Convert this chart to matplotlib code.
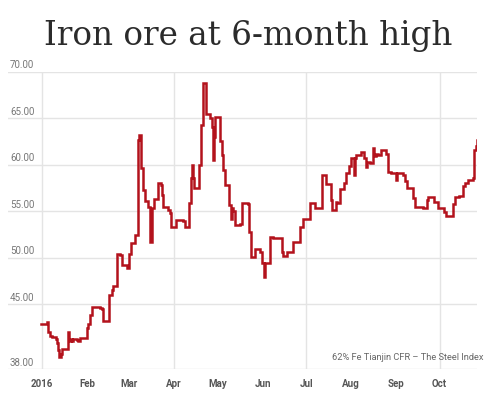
import matplotlib
matplotlib.use("Agg")
import matplotlib.pyplot as plt

# ---- data: change points (days since 2016-01-01) and price, USD/t ----
days = [-1, 3.5, 4.1, 5.3, 6.5, 9.2, 9.9, 11, 11.5, 12.7, 13.8, 18, 18.6, 19.6, 20.7, 21.4,
        23.7, 24.8, 26, 30.6, 31.7, 32.9, 34, 39.8, 41, 42.1, 46, 47.8, 49, 51.7,
        53.6, 54.7, 58.2, 60, 61.2, 63.9, 66.2, 66.7, 68.1, 69.2, 70.8, 73.1, 74.3, 75.4,
        75.9, 77.2, 80, 81.6, 82.3, 83, 86.9, 88.1, 88.8, 92, 97.3, 98.4, 101.2, 102.6,
        103, 104.2, 104.9, 108.1, 109.4, 110.6, 111, 112.7, 115.7, 116.8, 117.5, 118.2,
        119.1, 122.8, 123.7, 124.8, 126, 129, 129.9, 130.6, 131.3, 132.9, 136.3, 137.5,
        142.1, 142.8, 143.9, 146.7, 150.1, 151.3, 153.1, 153.6, 157, 159.3, 165.1, 166.2,
        168.6, 173.1, 177.7, 180, 184.6, 188.1, 193.1, 195.7, 199.1, 200, 202.3, 203,
        205.3, 208.3, 209.4, 211.7, 212.9, 215.2, 215.7, 216.3, 219.8, 222.1, 223, 223.7,
        226, 228.3, 229, 230.1, 231.7, 233.4, 237, 238.2, 240.5, 243.9, 244.8, 249, 250.1,
        251.3, 255.9, 257, 262.8, 265.1, 266.2, 270.1, 273.1, 277.2, 278.2, 283.4, 284.6,
        287.4, 290.3, 291.5, 293.4, 297.2, 297.9, 298.9, 299.6]
prices = [42.9, 43.1, 42.0, 41.6, 41.5, 41.3, 40.8, 40.1, 39.35, 39.6, 40.15, 42.0, 41.0, 41.3, 41.0, 41.3,
          41.2, 41.0, 41.4, 42.4, 42.9, 43.8, 44.7, 44.6, 44.5, 43.2, 46.0, 46.5, 46.95, 50.4,
          50.3, 49.2, 48.9, 50.4, 51.55, 52.4, 62.65, 63.2, 59.6, 57.3, 56.1, 55.5, 51.7, 52.0,
          55.3, 56.3, 58.0, 57.8, 56.75, 55.5, 55.1, 54.8, 53.3, 54.05, 53.9, 53.3, 55.85, 58.55,
          60.0, 58.55, 57.5, 60.0, 64.3, 65.5, 68.75, 65.5, 65.0, 64.1, 60.5, 63.0,
          65.15, 62.6, 61.05, 59.4, 57.8, 55.65, 54.2, 55.3, 55.0, 53.5, 53.6, 55.85,
          55.8, 52.8, 50.1, 50.9, 50.6, 49.4, 47.95, 49.4, 52.2, 52.1, 50.65, 50.2,
          50.65, 51.7, 53.3, 54.2, 55.85, 55.3, 58.85, 57.9, 56.2, 55.1, 56.0, 55.9,
          57.4, 58.05, 59.15, 59.85, 60.7, 58.9, 60.7, 61.0, 61.4, 60.7, 59.7, 60.3,
          60.2, 61.8, 60.9, 61.1, 61.0, 61.6, 61.2, 59.25, 59.1, 58.35, 59.1, 58.9, 58.2,
          57.45, 56.4, 55.5, 55.3, 56.2, 56.5, 56.0, 55.3, 54.95, 54.5, 55.75, 56.5,
          56.6, 57.7, 58.05, 58.4, 58.6, 61.6, 62.0, 62.65]

month_days = [0, 31, 60, 91, 121, 152, 182, 213, 244, 274]
month_labels = ["2016", "Feb", "Mar", "Apr", "May", "Jun", "Jul", "Aug", "Sep", "Oct"]
grid_days = [0, 91, 182, 274]
y_ticks = [38, 45, 50, 55, 60, 65, 70]
y_labels = ["38.00", "45.00", "50.00", "55.00", "60.00", "65.00", "70.00"]

title = "Iron ore at 6-month high"
source = "62% Fe Tianjin CFR \u2013 The Steel Index"

fig = plt.figure(figsize=(5.0, 3.98), dpi=100)
W, H = 500, 398
left, right, top, bottom = 8, 477, 71.7, 369.3
ax = fig.add_axes([left / W, 1 - bottom / H, (right - left) / W, (bottom - top) / H])

ax.plot(days, prices, drawstyle="steps-post", color="#b3121c", lw=1.8, solid_joinstyle="miter")

xmin = (left - 42.3) / 1.45
xmax = (right - 42.3) / 1.45
ax.set_xlim(xmin, xmax)
ax.set_ylim(38, 70)

for s in ax.spines.values():
    s.set_visible(False)
ax.tick_params(left=False, bottom=False, labelleft=False, labelbottom=False)

for yv in y_ticks:
    ax.axhline(yv, color="#e4e4e4", lw=1.0, zorder=0)
for xv in grid_days:
    ax.axvline(xv, color="#e4e4e4", lw=1.0, zorder=0)

for yv, lab in zip(y_ticks, y_labels):
    ypix = top + (70 - yv) * (bottom - top) / 32
    fig.text(10 / W, 1 - (ypix - 6.5) / H, lab, ha="left", va="center",
             fontsize=7, family="Roboto", color="#777777")

for xv, lab in zip(month_days, month_labels):
    xpix = 42.3 + xv * 1.45
    fig.text(xpix / W, 1 - 383.7 / H, lab, ha="center", va="center",
             fontsize=7, family="Roboto", fontweight="bold", color="#555555")

fig.text(483 / W, 1 - 357.7 / H, source, ha="right", va="center",
         fontsize=6.7, family="Roboto", color="#666666")

fig.text(248 / W, 1 - 45 / H, title, ha="center", va="baseline",
         fontsize=23.5, family="DejaVu Serif", color="#2b2b2b")

fig.savefig("out.png", dpi=100, facecolor="white")
